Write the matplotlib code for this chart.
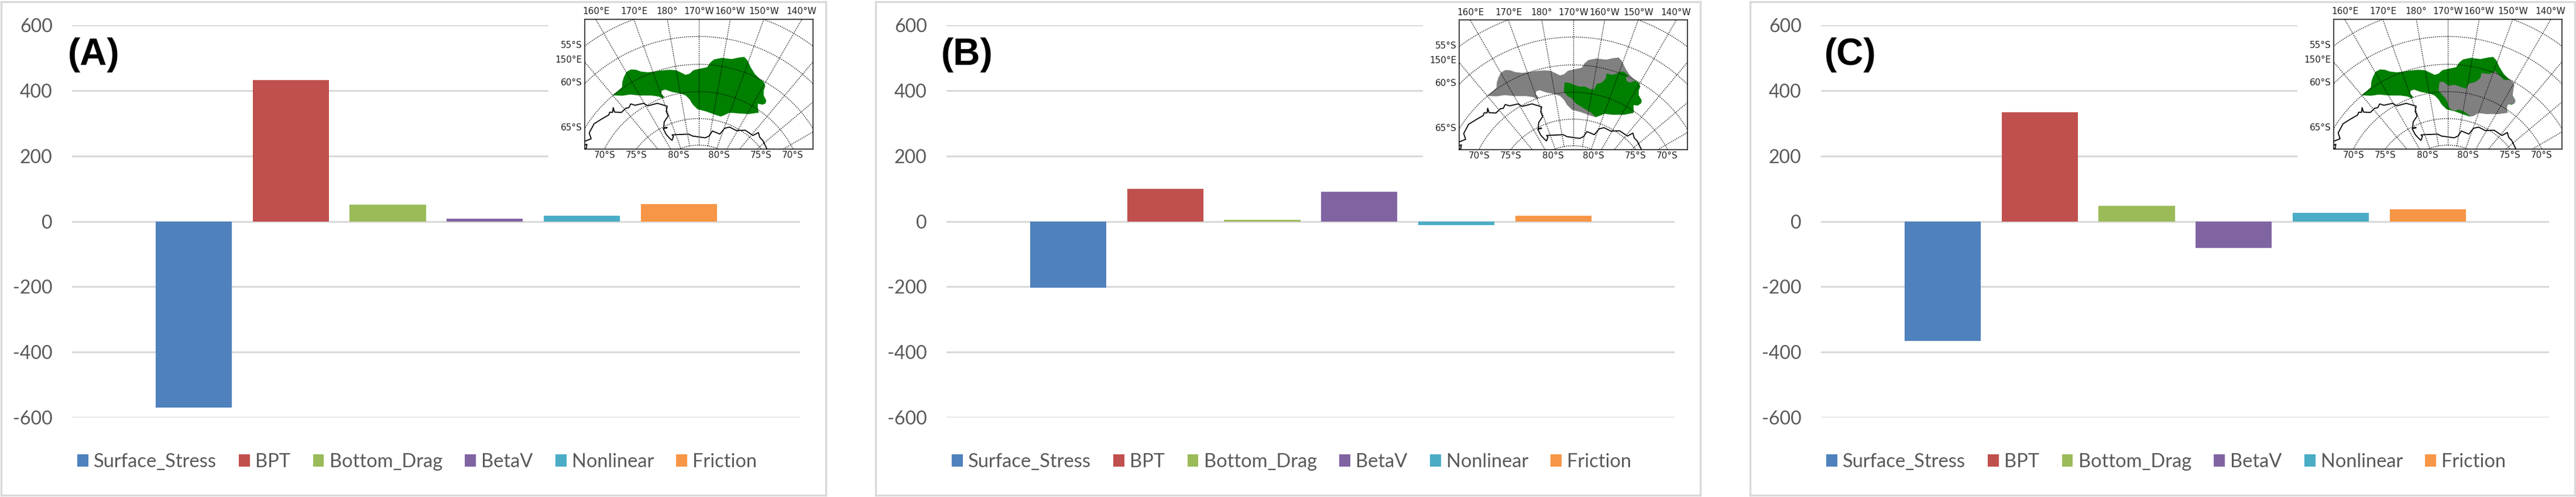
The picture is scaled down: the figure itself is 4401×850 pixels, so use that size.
import numpy as np
import matplotlib
matplotlib.use("Agg")
import matplotlib.pyplot as plt
from matplotlib.patches import Polygon, Rectangle

W, H = 4401, 850
categories = ["Surface_Stress", "BPT", "Bottom_Drag", "BetaV", "Nonlinear", "Friction"]
colors = ["#4F81BD", "#C0504D", "#9BBB59", "#8064A2", "#4BACC6", "#F79646"]
values_a = [-570, 433, 51, 9, 17, 54]
values_b = [-203, 99, 4, 90, -11, 18]
values_c = [-366, 334, 48, -81, 27, 37]
y_ticks = [-600, -400, -200, 0, 200, 400, 600]

# inset outlines, in inset units (1/3 pixel)
domain = [(200,488),(225,468),(248,448),(250,420),(258,395),(272,368),(295,356),(320,358),(345,367),(380,371),(410,368),(445,362),(490,358),(525,360),(550,372),(575,384),(595,378),(615,360),(650,352),(685,345),(700,322),(720,305),(760,297),(810,303),(850,295),(875,292),(892,310),(908,345),(930,380),(950,400),(975,420),(983,440),(975,465),(975,490),(988,515),(985,530),(970,537),(945,532),(945,555),(950,578),(900,585),(860,583),(800,578),(775,590),(755,598),(730,590),(680,572),(635,560),(610,535),(595,510),(575,490),(550,480),(505,472),(470,460),(452,465),(450,480),(465,498),(458,505),(435,495),(400,490),(340,490),(290,485),(250,491),(220,490)]
east_b = [(883,364),(863,376),(838,381),(813,374),(808,401),(788,421),(763,428),(748,456),(728,454),(703,441),(673,441),(643,431),(628,424),(598,419),(593,466),(613,491),(633,501),(653,526),(693,551),(728,571),(758,598),(778,591),(803,581),(843,586),(903,586),(953,574),(951,536),(973,539),(991,526),(993,511),(978,486),(978,461),(986,441),(978,421),(958,411),(933,421),(915,411),(913,391),(928,386),(903,366)]
east_c = [(600,420),(620,420),(645,440),(680,435),(705,445),(735,455),(750,430),(785,420),(810,400),(815,375),(860,380),(885,365),(905,385),(930,410),(965,410),(983,430),(978,465),(975,490),(990,515),(985,530),(950,537),(945,555),(950,578),(900,585),(840,585),(800,580),(775,595),(760,598),(730,575),(700,562),(675,570),(650,555),(635,510),(595,465)]
coast = [(57,725),(90,712),(80,682),(105,635),(145,610),(180,590),(185,576),(200,576),(203,552),(210,575),(245,577),(268,555),(283,553),(293,533),(315,540),(360,530),(380,543),(430,530),(470,542),(480,545),(475,570),(485,595),(465,625),(462,655),(480,655),(460,660),(475,690),(495,712),(505,720),(512,700),(505,692),(590,688),(610,698),(675,707),(695,698),(712,672),(750,688),(775,658),(800,652),(835,670),(880,668),(920,695),(948,680),(955,705),(970,720),(992,765)]
coast_small = [(57,745),(68,740),(65,760),(57,765)]
parallels = [55, 60, 65, 70, 75, 80]
meridians = [-40, -30, -20, -10, 0, 10, 20, 30, 40, 50, 60]   # degrees from 170W
top_labels = [("160°E",117),("170°E",310),("180°",480),("170°W",642),("160°W",802),("150°W",975),("140°W",1168)]
left_labels = [("55°S",232),("150°E",308),("60°S",425),("65°S",655)]
bottom_labels = [("70°S",160),("75°S",323),("80°S",538),("80°S",747),("75°S",960),("70°S",1123)]

plt.rcParams["font.family"] = ["Lato", "DejaVu Sans"]
fig = plt.figure(figsize=(W / 100, H / 100), dpi=100, facecolor="white")

def px_axes(x0, y0, x1, y1, **kw):
    return fig.add_axes([x0 / W, 1 - y1 / H, (x1 - x0) / W, (y1 - y0) / H], **kw)

POLE_X, POLE_Y, K = 642, 1015, 3090
def radius(lat):
    return K * np.tan(np.radians(90 - lat) / 2)

def draw_inset(ox, dy, base_color, sub, sub_color):
    back = px_axes(ox + 937, 6, ox + 1408, 290, zorder=2)
    back.axis("off")
    back.add_patch(Rectangle((0, 0), 1, 1, color="white", transform=back.transAxes))
    m = px_axes(ox + 999, 33 + dy, ox + 1389, 255 + dy, zorder=3)
    m.set_xlim(57, 1228); m.set_ylim(765, 99)
    m.set_xticks([]); m.set_yticks([])
    for s in m.spines.values():
        s.set_linewidth(1.3); s.set_color("#333333")
    m.add_patch(Polygon(domain, closed=True, fc=base_color, ec="none", zorder=1))
    if sub is not None:
        m.add_patch(Polygon(sub, closed=True, fc=sub_color, ec="none", zorder=2))
    dots = (0, (1, 1.4))
    th = np.radians(np.linspace(-80, 80, 400))
    for lat in parallels:
        r = radius(lat)
        m.plot(POLE_X + r * np.sin(th), POLE_Y - r * np.cos(th), color="k", lw=1.0, ls=dots, zorder=3)
    for lon in meridians:
        a = np.radians(lon)
        r = np.array([radius(80), 1400])
        m.plot(POLE_X + r * np.sin(a), POLE_Y - r * np.cos(a), color="k", lw=1.0, ls=dots, zorder=3)
    for c in (coast, coast_small):
        c = np.array(c)
        m.plot(c[:, 0], c[:, 1], color="k", lw=1.3, zorder=4)
    kw = dict(fontsize=11, color="#222222", family="DejaVu Sans", clip_on=False)
    for t, x in top_labels:
        m.text(x, 60, t, ha="center", va="center", **kw)
    for t, y in left_labels:
        m.text(44, y, t, ha="right", va="center", **kw)
    for t, x in bottom_labels:
        m.text(x, 796, t, ha="center", va="center", **kw)

def draw_panel(ox, values, label, label_x, base_color, sub, sub_color, dy=0):
    ax = px_axes(ox + 123, 43.4, ox + 1367, 714, zorder=1)
    ax.set_xlim(-1.254, 6.25); ax.set_ylim(-600, 600)
    ax.set_yticks(y_ticks); ax.set_xticks([])
    ax.tick_params(axis="y", length=0, pad=24, labelsize=23, labelcolor="#595959")
    ax.yaxis.set_major_formatter(matplotlib.ticker.FuncFormatter(lambda v, _: f"{int(v)}"))
    ax.grid(axis="y", color="#D9D9D9", lw=2.2, zorder=0)
    ax.set_axisbelow(True)
    for s in ax.spines.values():
        s.set_visible(False)
    handles = []
    for i, (c, v, col) in enumerate(zip(categories, values, colors)):
        handles.append(ax.bar(i, v, width=0.785, color=col, label=c, zorder=3))
    fig.legend(handles=handles, labels=categories, ncol=6, frameon=False, fontsize=23.5,
               loc="center left", bbox_to_anchor=((ox + 132) / W, 1 - 790 / H),
               borderpad=0, borderaxespad=0, handlelength=0.58, handleheight=0.61,
               handletextpad=0.28, columnspacing=1.17, labelcolor="#595959")
    fig.text((ox + label_x) / W, 1 - 94 / H, label, family="Liberation Sans", weight="bold",
             fontsize=46, ha="center", va="center", color="black", zorder=6)
    draw_inset(ox, dy, base_color, sub, sub_color)
    fr = px_axes(ox + 1.5, 2.5, ox + 1411, 847, zorder=5)
    fr.patch.set_alpha(0); fr.set_xticks([]); fr.set_yticks([])
    for s in fr.spines.values():
        s.set_color("#D9D9D9"); s.set_linewidth(2.4)

draw_panel(0, values_a, "(A)", 160, "#007F00", None, None)
draw_panel(1494, values_b, "(B)", 158, "#808080", east_b, "#007F00", dy=1)
draw_panel(2988, values_c, "(C)", 173, "#007F00", east_c, "#808080")

fig.savefig("out.png", dpi=100, facecolor="white")
